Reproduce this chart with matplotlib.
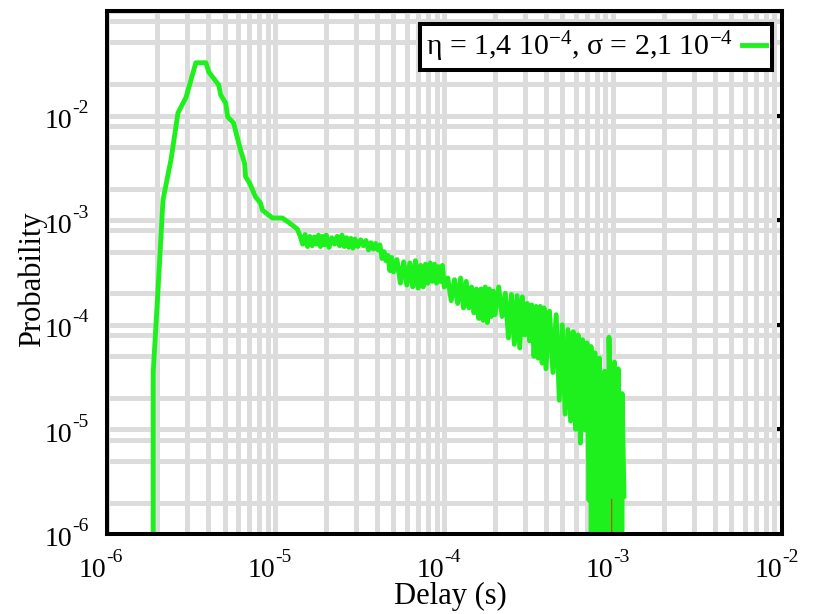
import matplotlib
matplotlib.use('Agg')
import matplotlib.pyplot as plt
from matplotlib.ticker import LogLocator
import numpy as np

plt.rcParams['font.family'] = ['Liberation Serif', 'DejaVu Serif']
plt.rcParams['mathtext.fontset'] = 'custom'
plt.rcParams['mathtext.rm'] = 'Liberation Serif'
plt.rcParams['mathtext.it'] = 'Liberation Serif:italic'

# delay histogram (delay in microseconds, probability)
delay_us = [1.84, 1.89, 2.02, 2.16, 2.41, 2.65, 2.96, 3.38, 3.88, 4.04,
            4.62, 4.75, 5.08, 5.22, 5.66, 5.90, 6.22, 6.57, 6.66, 7.03,
            7.63, 8.16, 8.38, 9.6, 11.0, 11.9, 12.8, 13.5,
            14.0, 14.5, 15.0, 15.5, 16.0, 16.5, 17.0, 17.5, 18.0, 18.5, 19.0, 19.5, 20.0,
            20.8, 21.6, 22.4, 23.2, 24.0, 24.8, 25.6, 26.4, 27.2, 28.0, 28.8, 29.6,
            30.8, 32.0, 33.2, 34.4, 35.6, 36.8, 38.0, 39.2, 40.4, 41.6, 42.8, 44.0,
            45.2, 46.4, 47.6, 48.8, 50.0,
            52.5, 55.0, 57.5, 60.0, 62.5, 65.0, 67.5, 70.0, 72.5, 75.0,
            77.5, 80.0, 82.5, 85.0, 87.5, 90.0, 92.5, 95.0, 97.5, 100,
            105, 110, 115, 120, 125, 130, 135, 140, 145, 150,
            155, 160, 165, 170, 175, 180, 185, 190, 195, 200,
            210, 220, 230, 240, 250, 260, 270, 280, 290, 300,
            310, 320, 330, 340, 350, 360, 370, 380, 390, 400,
            420, 440, 460, 480, 500, 520, 540, 560, 580, 600,
            620, 640, 660, 680, 700, 720, 740, 760, 780, 800,
            830, 860, 890, 915, 945, 980, 1020, 1045, 1070, 1100, 1130, 1160]
prob = [0, 3.5e-5, 2.2e-4, 1.56e-3, 3.8e-3, 1.06e-2, 1.5e-2, 3.2e-2, 3.2e-2, 2.6e-2,
        1.96e-2, 1.57e-2, 1.32e-2, 9.7e-3, 8.5e-3, 6.5e-3, 4.7e-3, 3.5e-3, 2.6e-3, 2.27e-3,
        1.67e-3, 1.46e-3, 1.25e-3, 1.05e-3, 1.05e-3, 9.6e-4, 8.8e-4, 8.2e-4,
        7.1e-4, 5.9e-4, 7.3e-4, 5.6e-4, 7.0e-4, 5.7e-4, 6.9e-4, 5.9e-4, 7.2e-4, 5.6e-4,
        7.0e-4, 5.8e-4, 7.2e-4,
        5.5e-4, 6.8e-4, 5.9e-4, 7.0e-4, 5.7e-4, 7.2e-4, 5.6e-4, 6.8e-4, 5.5e-4, 6.7e-4,
        5.4e-4, 6.6e-4,
        5.6e-4, 6.5e-4, 5.7e-4, 6.4e-4, 5.2e-4, 6.1e-4, 5.3e-4, 6.0e-4, 5.2e-4, 5.8e-4,
        4.3e-4, 5.0e-4, 4.1e-4, 4.6e-4, 3.3e-4, 4.4e-4, 3.2e-4,
        4.2e-4, 2.5e-4, 4.0e-4, 2.4e-4, 3.9e-4, 2.3e-4, 4.1e-4, 2.25e-4, 3.7e-4, 2.3e-4,
        3.8e-4, 2.5e-4, 3.9e-4, 2.6e-4, 3.8e-4, 2.5e-4, 3.6e-4, 2.6e-4, 3.7e-4, 2.3e-4,
        2.8e-4, 1.7e-4, 2.7e-4, 1.6e-4, 2.8e-4, 1.45e-4, 2.6e-4, 1.45e-4, 2.3e-4, 1.3e-4,
        2.2e-4, 1.15e-4, 2.2e-4, 1.1e-4, 2.3e-4, 1.05e-4, 2.2e-4, 1.2e-4, 2.1e-4, 1.25e-4,
        2.3e-4, 1.2e-4, 2.0e-4, 7.5e-5, 1.95e-4, 6.5e-5, 1.9e-4, 6.0e-5, 1.85e-4, 8.0e-5,
        1.6e-4, 7.0e-5, 1.55e-4, 5.0e-5, 1.5e-4, 4.8e-5, 1.5e-4, 4.3e-5, 1.45e-4, 3.8e-5,
        1.35e-4, 3.5e-5, 1.25e-4, 1.9e-5, 1.0e-4, 1.4e-5, 9.0e-5, 1.2e-5, 8.6e-5, 1.0e-5,
        8.0e-5, 7.4e-6, 7.2e-5, 9.9e-6, 6.7e-5, 2.1e-6, 6.2e-5, 0, 5.4e-5, 0,
        4.8e-5, 0, 3.6e-5, 0, 7.6e-5, 2.3e-6, 4.4e-5, 0, 3.8e-5, 0, 2.2e-5, 2.3e-6]

# second run, almost completely hidden under the green one
red_delay_us = [873, 897, 935, 960, 976, 979]
red_prob = [2.3e-5, 3.0e-5, 3.1e-5, 2.2e-5, 2.3e-6, 0]

x_tick_exp = [-6, -5, -4, -3, -2]
y_tick_exp = [-6, -5, -4, -3, -2]
legend_label = r'η = 1,4 $\mathregular{10^{-4}}$, σ = 2,1 $\mathregular{10^{-4}}$'

W, H = 816, 614
PT = 72 / 100  # points per pixel
L, R, T, B = 106.5, 782, 11, 534

fig = plt.figure(figsize=(W / 100, H / 100), dpi=100)
ax = fig.add_axes([L / W, 1 - B / H, (R - L) / W, (B - T) / H])

ax.set_xscale('log')
ax.set_yscale('log', nonpositive='clip')

ax.plot(np.array(red_delay_us) * 1e-6, red_prob, color='#ff0000', lw=2.4)
ax.plot(np.array(delay_us) * 1e-6, prob, color='#1ef01e', lw=3.5, label=legend_label)

ax.set_xlim(1e-6, 1e-2)
ax.set_ylim(1e-6, 1e-1)

ax.set_xticks([10.0 ** e for e in x_tick_exp])
ax.xaxis.set_minor_locator(LogLocator(base=10, subs=np.arange(2, 10), numticks=50))
ax.yaxis.set_major_locator(LogLocator(base=10, numticks=50))
ax.yaxis.set_minor_locator(LogLocator(base=10, subs=[2, 5, 8], numticks=50))

ax.grid(True, which='both', color='#dcdcdc', lw=3.6)
ax.set_axisbelow(True)

ax.tick_params(which='both', length=0, labelbottom=False, labelleft=False)
ax.tick_params(axis='y', which='major', left=False, right=True, direction='in',
               length=3.6, width=2.9, color='black')
for s in ax.spines.values():
    s.set_linewidth(2.9)
    s.set_color('black')

# gnuplot style tick labels: "10" plus a raised exponent
for e in x_tick_exp:
    base = ax.annotate('10', xy=(10.0 ** e, 0), xycoords=('data', 'axes fraction'),
                       xytext=(0, -43 * PT), textcoords='offset points',
                       ha='right', va='baseline', fontsize=20)
    ax.annotate(str(e), xy=(1, 0), xycoords=base, xytext=(0, 21 * PT),
                textcoords='offset points', ha='left', va='baseline', fontsize=14)

for e in y_tick_exp:
    base = ax.annotate('10', xy=(0, 10.0 ** e), xycoords=('axes fraction', 'data'),
                       xytext=(-(L - 72) * PT, -12.5 * PT), textcoords='offset points',
                       ha='right', va='baseline', fontsize=20)
    ax.annotate(str(e), xy=(1, 0), xycoords=base, xytext=(0, 21 * PT),
                textcoords='offset points', ha='left', va='baseline', fontsize=14)

fig.text(450 / W, 1 - 604 / H, 'Delay (s)', ha='center', va='baseline', fontsize=22)
fig.text(32 / W, 1 - 279 / H, 'Probability', ha='center', va='center',
         rotation=90, fontsize=22)

leg = ax.legend(loc='upper right', bbox_to_anchor=((772 - L) / (R - L), (B - 24) / (B - T)),
                borderaxespad=0, fontsize=21.5, markerfirst=False, fancybox=False,
                framealpha=1, edgecolor='black', handlelength=0.8,
                handletextpad=0.3, borderpad=0.2)
leg.get_frame().set_linewidth(2.9)

fig.savefig('out.png', dpi=100)
